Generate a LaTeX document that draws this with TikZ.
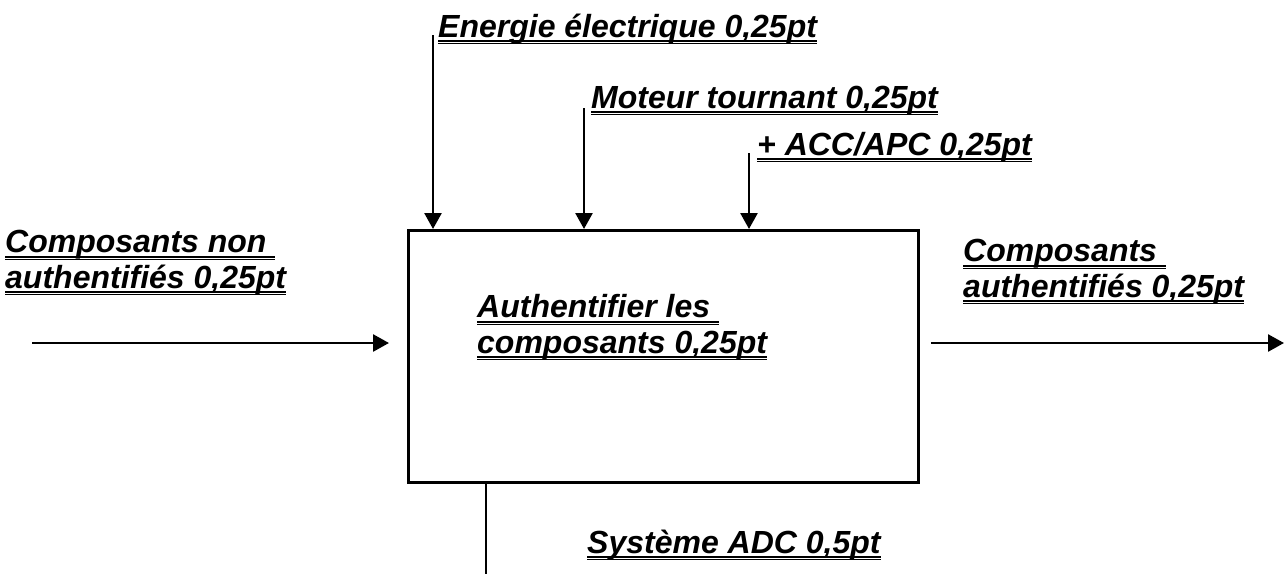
\documentclass[tikz,border=0pt]{standalone}
\usepackage{fontspec}
\setmainfont{Liberation Sans}
\usetikzlibrary{arrows.meta}

\newsavebox\ulbox
\newcommand\dblul[1]{\sbox\ulbox{#1}\rlap{\usebox\ulbox}\rlap{\raisebox{-5.4pt}{\rule{\wd\ulbox}{2.4pt}}}\raisebox{-7.3pt}{\rule{\wd\ulbox}{1.1pt}}}

\tikzset{
  lbl/.style={anchor=base west, inner sep=0pt, align=left, font=\fontsize{32}{35.5}\selectfont\bfseries\itshape},
  flow/.style={line width=2.6pt, -{Triangle[length=16pt,width=17pt]}},
  wire/.style={line width=2.6pt}
}

\begin{document}
\begin{tikzpicture}[x=1pt,y=-1pt]
\useasboundingbox (0,0) rectangle (1285,574);

\node[draw, line width=2.8pt, minimum width=510pt, minimum height=252pt, inner sep=0pt, anchor=north west] (fn) at (407,229) {};
\node[lbl] (fnlab) at (477,353) {\dblul{Authentifier les\ }\\\dblul{composants 0,25pt}};

\node[lbl] (enlab) at (438,37) {\dblul{Energie électrique 0,25pt}};
\node[lbl] (motlab) at (591,108) {\dblul{Moteur tournant 0,25pt}};
\node[lbl] (acclab) at (757,155) {\dblul{+ ACC/APC 0,25pt}};
\node[lbl] (inlab) at (5,288) {\dblul{Composants non\ }\\\dblul{authentifiés 0,25pt}};
\node[lbl] (outlab) at (963,297) {\dblul{Composants\ }\\\dblul{authentifiés 0,25pt}};
\node[lbl] (adclab) at (587,553) {\dblul{Système ADC 0,5pt}};

\coordinate (en) at (433,35);
\coordinate (mot) at (584,108);
\coordinate (acc) at (749,153);
\coordinate (in) at (32,343);
\coordinate (out) at (1284,343);
\coordinate (adc) at (486,574);

\foreach \c in {en,mot,acc}
  \draw[flow] (\c) -- (\c |- fn.north);
\draw[flow, shorten >=18pt] (in) -- (in -| fn.west);
\draw[flow, shorten <=11pt] (in -| fn.east) -- (out);
\draw[wire] (adc |- fn.south) -- (adc);

\end{tikzpicture}
\end{document}
